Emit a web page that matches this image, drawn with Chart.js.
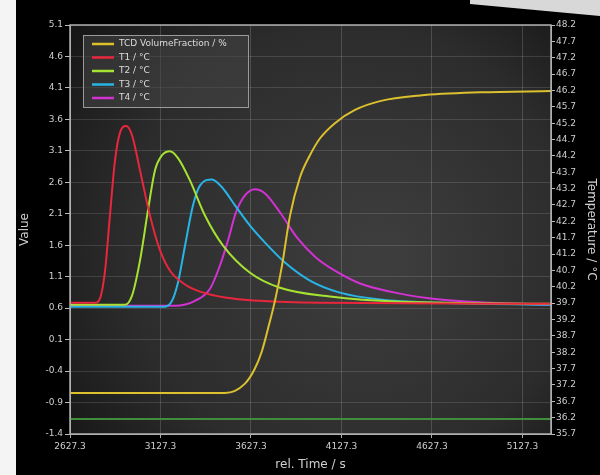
<!DOCTYPE html>
<html lang="en">
<head>
  <meta charset="UTF-8">
  <title>TCD / Temperature</title>
  <script src="https://cdn.jsdelivr.net/npm/chart.js@4.4.1/dist/chart.umd.min.js"></script>
  <style>
    body { margin: 0; background: #000; }
    #wrap { width: 600px; height: 475px; }
  </style>
</head>
<body>
  <div id="wrap"><canvas id="myChart" width="600" height="475"></canvas></div>
  <script>
    // tick labels
    var leftTicks = [-1.4, -0.9, -0.4, 0.1, 0.6, 1.1, 1.6, 2.1, 2.6, 3.1, 3.6, 4.1, 4.6, 5.1];
    var rightTicks = [35.7, 36.2, 36.7, 37.2, 37.7, 38.2, 38.7, 39.2, 39.7, 40.2, 40.7, 41.2, 41.7,
                      42.2, 42.7, 43.2, 43.7, 44.2, 44.7, 45.2, 45.7, 46.2, 46.7, 47.2, 47.7, 48.2];
    var timeTicks = [2627.3, 3127.3, 3627.3, 4127.3, 4627.3, 5127.3];

    // TCD volume fraction (left axis)
    var tcdTime = [2627, 3484, 3594, 3649, 3688, 3721, 3760, 3799, 3843, 3898, 3953, 4009, 4091, 4202, 4340, 4561, 4893, 5285];
    var tcdValue = [-0.75, -0.75, -0.60, -0.36, -0.08, 0.27, 0.72, 1.28, 2.07, 2.68, 3.03, 3.30, 3.54, 3.75, 3.89, 3.98, 4.03, 4.05];

    // temperatures (right axis)
    var t1Time = [2627, 2765, 2793, 2821, 2848, 2876, 2904, 2937, 2970, 3014, 3069, 3125, 3180, 3263, 3346, 3484, 3677, 4009, 5285];
    var t1Temp = [39.71, 39.71, 39.84, 40.69, 42.38, 44.06, 44.92, 45.11, 44.83, 43.76, 42.38, 41.31, 40.69, 40.27, 40.05, 39.87, 39.77, 39.71, 39.68];

    var t2Time = [2627, 2931, 2970, 3014, 3058, 3097, 3136, 3180, 3224, 3290, 3373, 3473, 3622, 3788, 4064, 4451, 5285];
    var t2Temp = [39.65, 39.65, 39.93, 41.00, 42.53, 43.76, 44.22, 44.34, 44.13, 43.45, 42.38, 41.46, 40.63, 40.17, 39.90, 39.74, 39.68];

    var t3Time = [2627, 3152, 3191, 3224, 3263, 3307, 3346, 3412, 3467, 3539, 3622, 3705, 3815, 3953, 4119, 4340, 4672, 5285];
    var t3Temp = [39.59, 39.59, 39.77, 40.33, 41.46, 42.69, 43.30, 43.48, 43.24, 42.69, 42.07, 41.55, 40.94, 40.39, 40.02, 39.81, 39.71, 39.65];

    var t4Time = [2627, 3207, 3318, 3401, 3456, 3500, 3544, 3594, 3649, 3705, 3788, 3882, 3981, 4091, 4230, 4451, 4672, 4948, 5285];
    var t4Temp = [39.62, 39.62, 39.77, 40.14, 40.85, 41.61, 42.47, 42.99, 43.18, 43.05, 42.47, 41.70, 41.12, 40.69, 40.30, 39.99, 39.81, 39.71, 39.65];

    // constant green line near the bottom
    var baseTime = [2627.3, 5285];
    var baseValue = [-1.16, -1.16];

    function pts(xs, ys) {
      return xs.map(function (x, i) { return { x: x, y: ys[i] }; });
    }

    function serie(label, xs, ys, color, axis, inLegend) {
      return {
        label: label,
        data: pts(xs, ys),
        borderColor: color,
        backgroundColor: color,
        borderWidth: 2,
        pointRadius: 0,
        cubicInterpolationMode: 'monotone',
        yAxisID: axis,
        inLegend: inLegend
      };
    }

    // background, frame and legend drawn by hand
    var decor = {
      id: 'decor',
      beforeDraw: function (chart) {
        var c = chart.ctx, a = chart.chartArea;
        c.save();
        c.fillStyle = '#000';
        c.fillRect(0, 0, chart.width, chart.height);
        c.fillStyle = '#f4f4f4';
        c.fillRect(0, 0, 16, chart.height);
        c.fillStyle = '#d8d8d8';
        c.beginPath();
        c.moveTo(470, 0); c.lineTo(600, 0); c.lineTo(600, 16); c.lineTo(470, 4);
        c.closePath();
        c.fill();
        var g = c.createRadialGradient(380, 260, 20, 330, 240, 360);
        g.addColorStop(0, '#3d3d3d');
        g.addColorStop(0.6, '#2c2c2c');
        g.addColorStop(1, '#121212');
        c.fillStyle = g;
        c.fillRect(a.left, a.top, a.right - a.left, a.bottom - a.top);
        c.restore();
      },
      afterDraw: function (chart) {
        var c = chart.ctx, a = chart.chartArea;
        c.save();
        c.strokeStyle = '#b0b0b0';
        c.lineWidth = 1.5;
        c.strokeRect(a.left, a.top, a.right - a.left, a.bottom - a.top);

        // legend box
        var bx = a.left + 13, by = a.top + 10, bw = 165, bh = 72;
        c.fillStyle = 'rgba(70,70,70,0.55)';
        c.fillRect(bx, by, bw, bh);
        c.strokeStyle = '#9a9a9a';
        c.lineWidth = 1;
        c.strokeRect(bx + 0.5, by + 0.5, bw, bh);
        c.font = '9px "DejaVu Sans", sans-serif';
        c.textBaseline = 'middle';
        var row = 0;
        chart.data.datasets.forEach(function (ds) {
          if (!ds.inLegend) return;
          var y = by + 9 + row * 13.5;
          c.strokeStyle = ds.borderColor;
          c.lineWidth = 2.5;
          c.beginPath();
          c.moveTo(bx + 9, y); c.lineTo(bx + 31, y);
          c.stroke();
          c.fillStyle = '#dddddd';
          c.fillText(ds.label, bx + 36, y);
          row++;
        });
        c.restore();
      }
    };

    var ctx = document.getElementById('myChart').getContext('2d');
    var myChart = new Chart(ctx, {
      type: 'line',
      data: {
        datasets: [
          serie('TCD VolumeFraction / %', tcdTime, tcdValue, '#dcc02e', 'y', true),
          serie('T1 / °C', t1Time, t1Temp, '#e8263c', 'y2', true),
          serie('T2 / °C', t2Time, t2Temp, '#a6e232', 'y2', true),
          serie('T3 / °C', t3Time, t3Temp, '#28b4e6', 'y2', true),
          serie('T4 / °C', t4Time, t4Temp, '#d232d2', 'y2', true),
          serie('base', baseTime, baseValue, '#3f8f3a', 'y', false)
        ]
      },
      options: {
        responsive: false,
        animation: false,
        layout: { padding: { left: 16, top: 25, right: 0, bottom: 0 } },
        plugins: { legend: { display: false }, tooltip: { enabled: false } },
        scales: {
          x: {
            type: 'linear',
            min: 2627.3,
            max: 5285,
            afterBuildTicks: function (s) { s.ticks = timeTicks.map(function (v) { return { value: v }; }); },
            afterFit: function (s) { s.height = 41; },
            ticks: {
              color: '#cfcfcf', font: { size: 9, family: 'DejaVu Sans' }, maxRotation: 0, autoSkip: false,
              callback: function (v) { return Number(v).toFixed(1); }
            },
            grid: { color: 'rgba(255,255,255,0.16)', tickLength: 4, tickColor: '#aaa' },
            border: { color: '#b0b0b0' },
            title: { display: true, text: 'rel. Time / s', color: '#d0d0d0', font: { size: 12, family: 'DejaVu Sans' }, padding: { top: 2, bottom: 3 } }
          },
          y: {
            position: 'left',
            min: -1.4,
            max: 5.1,
            afterBuildTicks: function (s) { s.ticks = leftTicks.map(function (v) { return { value: v }; }); },
            afterFit: function (s) { s.width = 54; },
            ticks: {
              color: '#cfcfcf', font: { size: 9, family: 'DejaVu Sans' }, autoSkip: false, padding: 2,
              callback: function (v) { return Number(v).toFixed(1); }
            },
            grid: { color: 'rgba(255,255,255,0.13)', tickLength: 5, tickColor: '#bbb' },
            border: { color: '#b0b0b0' },
            title: { display: true, text: 'Value', color: '#d0d0d0', font: { size: 12, family: 'DejaVu Sans' }, padding: { top: 2, bottom: 2 } }
          },
          y2: {
            position: 'right',
            min: 35.7,
            max: 48.2,
            afterBuildTicks: function (s) { s.ticks = rightTicks.map(function (v) { return { value: v }; }); },
            afterFit: function (s) { s.width = 49; },
            ticks: {
              color: '#cfcfcf', font: { size: 9, family: 'DejaVu Sans' }, autoSkip: false, padding: 1,
              callback: function (v) { return Number(v).toFixed(1); }
            },
            grid: { drawOnChartArea: false, tickLength: 4, tickColor: '#bbb' },
            border: { color: '#b0b0b0' },
            title: { display: true, text: 'Temperature / °C', color: '#d0d0d0', font: { size: 12, family: 'DejaVu Sans' }, padding: { top: 2, bottom: 2 } }
          }
        }
      },
      plugins: [decor]
    });
  </script>
</body>
</html>
